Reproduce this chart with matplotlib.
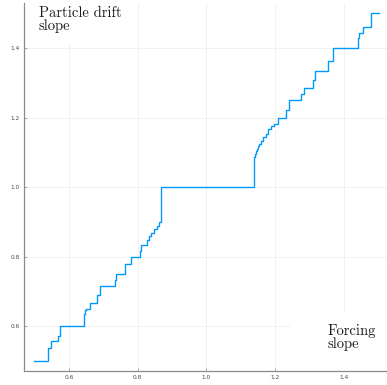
import matplotlib

matplotlib.use("Agg")
import matplotlib.pyplot as plt
from matplotlib.patches import Rectangle


# step positions (forcing slope) where the drift slope jumps to a new plateau
FORCING_STEPS = [
    0.500, 0.539, 0.548, 0.569, 0.574, 0.644, 0.647, 0.651, 0.663, 0.682,
    0.692, 0.734, 0.738, 0.763, 0.782, 0.806, 0.810, 0.828, 0.834, 0.840,
    0.847, 0.855, 0.862, 0.867, 0.869, 1.137, 1.140, 1.143, 1.147, 1.150,
    1.154, 1.158, 1.165, 1.173, 1.180, 1.187, 1.195, 1.207, 1.230, 1.240,
    1.275, 1.282, 1.310, 1.316, 1.353, 1.367, 1.441, 1.444, 1.455, 1.477,
]
# particle drift slope on each plateau
DRIFT_LEVELS = [
    0.500, 0.538, 0.556, 0.571, 0.600, 0.636, 0.645, 0.650, 0.667, 0.690,
    0.714, 0.733, 0.750, 0.778, 0.800, 0.815, 0.833, 0.847, 0.859, 0.868,
    0.878, 0.888, 0.900, 0.910, 1.000, 1.087, 1.095, 1.104, 1.111, 1.118,
    1.125, 1.133, 1.143, 1.154, 1.167, 1.176, 1.182, 1.200, 1.222, 1.250,
    1.267, 1.286, 1.308, 1.333, 1.364, 1.400, 1.429, 1.444, 1.462, 1.500,
]
FORCING_END = 1.500

X_TICKS = [0.6, 0.8, 1.0, 1.2, 1.4]
Y_TICKS = [0.6, 0.8, 1.0, 1.2, 1.4]

LINE_COLOR = "#009AFA"
SPINE_COLOR = "#8a8a8a"
GRID_COLOR = "#efefef"


def plot(output_path):
    fig = plt.figure(figsize=(3.87, 3.85), dpi=100)
    fig.patch.set_facecolor("white")
    ax = fig.add_axes([0.062, 0.036, 0.943, 0.956])

    xs = FORCING_STEPS + [FORCING_END]
    ys = DRIFT_LEVELS + [DRIFT_LEVELS[-1]]
    ax.plot(xs, ys, drawstyle="steps-post", color=LINE_COLOR, linewidth=1.0, zorder=3)

    ax.set_xlim(0.47, 1.53)
    ax.set_ylim(0.47, 1.53)
    ax.set_xticks(X_TICKS)
    ax.set_yticks(Y_TICKS)
    ax.set_xticklabels([f"{t:.1f}" for t in X_TICKS])
    ax.set_yticklabels([f"{t:.1f}" for t in Y_TICKS])
    ax.tick_params(axis="both", direction="in", length=2, width=0.5,
                   colors=SPINE_COLOR, labelcolor="#4d4d4d", labelsize=4.2, pad=3)

    ax.grid(True, color=GRID_COLOR, linewidth=0.6)
    ax.set_axisbelow(True)
    for side in ["top", "right"]:
        ax.spines[side].set_visible(False)
    for side in ["left", "bottom"]:
        ax.spines[side].set_color(SPINE_COLOR)
        ax.spines[side].set_linewidth(0.9)

    # blank panels behind the two labels
    ax.add_patch(Rectangle((0.47, 1.413), 0.30, 0.12, facecolor="white",
                           edgecolor="none", zorder=1))
    ax.add_patch(Rectangle((1.243, 0.47), 0.29, 0.17, facecolor="white",
                           edgecolor="none", zorder=1))

    label_font = dict(family="cmr10", fontsize=10.5, color="#1a1a1a", linespacing=0.95)
    ax.text(0.513, 1.522, "Particle drift\nslope", ha="left", va="top", zorder=4, **label_font)
    ax.text(1.351, 0.605, "Forcing\nslope", ha="left", va="top", zorder=4, **label_font)

    fig.savefig(output_path, dpi=100, facecolor="white")
    plt.close(fig)


def main():
    plot("out.png")


if __name__ == "__main__":
    main()
